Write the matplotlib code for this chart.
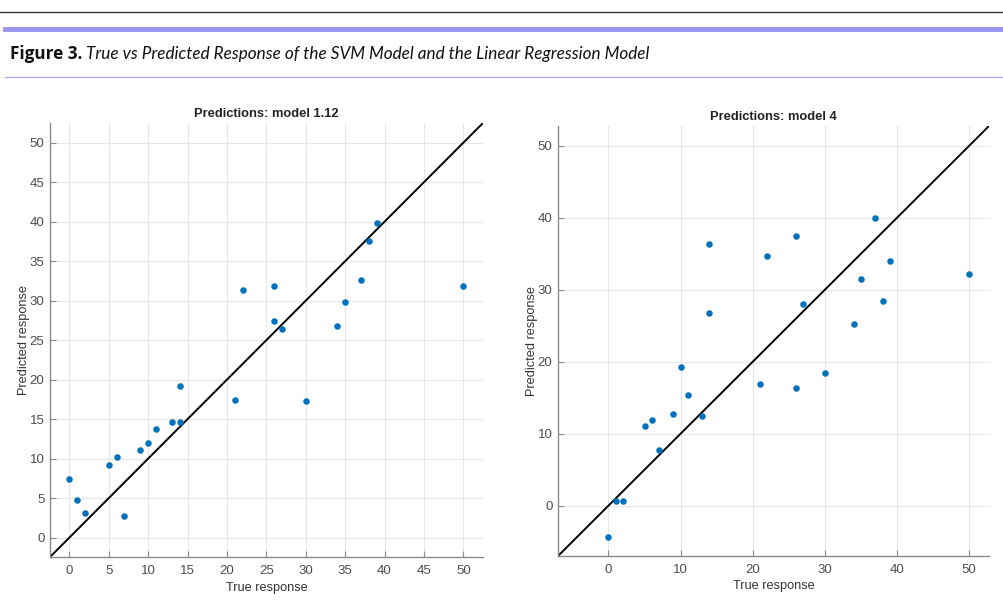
import matplotlib
matplotlib.use("Agg")
import matplotlib.pyplot as plt
from matplotlib.lines import Line2D

true_resp = [0, 1, 2, 5, 6, 7, 9, 10, 11, 13, 14, 14, 21, 22, 26, 26, 27, 30, 34, 35, 37, 38, 39, 50]
pred_model_112 = [7.4, 4.8, 3.1, 9.2, 10.2, 2.7, 11.1, 12.0, 13.7, 14.6, 19.2, 14.6, 17.4, 31.4,
                  31.9, 27.4, 26.4, 17.3, 26.8, 29.8, 32.6, 37.5, 39.8, 31.8]
pred_model_4 = [-4.4, 0.7, 0.6, 11.1, 11.9, 7.7, 12.7, 19.2, 15.4, 12.4, 36.3, 26.7, 16.9, 34.7,
                37.4, 16.4, 28.0, 18.4, 25.2, 31.5, 39.9, 28.4, 34.0, 32.2]

titles = ["Predictions: model 1.12", "Predictions: model 4"]
ticks_left = list(range(0, 51, 5))
ticks_right = list(range(0, 51, 10))

plt.rcParams['font.family'] = ['Liberation Sans', 'DejaVu Sans']

fig = plt.figure(figsize=(10.04, 6.04), dpi=100)

# header decorations
fig.add_artist(Line2D([0, 1], [1 - 11.5/604, 1 - 11.5/604], color='#333333', lw=1.0))
fig.add_artist(Line2D([5/1004, 1], [1 - 29/604, 1 - 29/604], color='#9a98ee', lw=3.6))
fig.add_artist(Line2D([5/1004, 1], [1 - 77/604, 1 - 77/604], color='#a8a6f0', lw=0.9))
t1 = fig.text(10/1004, 1 - 54/604, "Figure 3.", fontsize=12.3, fontweight='bold',
              family=['Open Sans', 'DejaVu Sans'], va='center', ha='left', color='#111111')
fig.canvas.draw()
bb = t1.get_window_extent()
fig.text((bb.x1 + 4) / 1004, 1 - 54/604,
         "True vs Predicted Response of the SVM Model and the Linear Regression Model",
         fontsize=12.3, style='italic', family=['Lato', 'DejaVu Sans'], va='center', ha='left',
         color='#111111')

axes_pos = [
    [50/1004, 1 - 557/604, 433/1004, 434/604],
    [558/1004, 1 - 556/604, 431/1004, 430/604],
]
lims = [(-2.45, 52.5), (-7.0, 52.75)]
preds = [pred_model_112, pred_model_4]
ticksets = [ticks_left, ticks_right]

for i in range(2):
    ax = fig.add_axes(axes_pos[i])
    lo, hi = lims[i]
    ax.set_xlim(lo, hi)
    ax.set_ylim(lo, hi)
    ax.plot([lo, hi], [lo, hi], color='black', lw=1.4, zorder=2)
    ax.scatter(true_resp, preds[i], s=22, color='#0072BD', zorder=3, linewidths=0)
    ax.set_xticks(ticksets[i])
    ax.set_yticks(ticksets[i])
    ax.grid(True, color='#e6e6e6', lw=0.8, zorder=0)
    ax.set_axisbelow(True)
    for s in ['top', 'right']:
        ax.spines[s].set_visible(False)
    for s in ['left', 'bottom']:
        ax.spines[s].set_color('#8a8a8a')
        ax.spines[s].set_linewidth(1.0)
    ax.tick_params(direction='in', length=4, width=0.8, color='#8a8a8a',
                   labelsize=9.5, labelcolor='#4d4d4d')
    ax.tick_params(axis='y', pad=4)
    ax.tick_params(axis='x', pad=6)
    ax.set_title(titles[i], fontsize=9.3, fontweight='bold', color='#222222', pad=4)
    ax.set_xlabel("True response", fontsize=9.2, color='#333333', labelpad=3)
    ax.set_ylabel("Predicted response", fontsize=9.2, color='#333333', labelpad=0)

fig.savefig("out.png", dpi=100)
